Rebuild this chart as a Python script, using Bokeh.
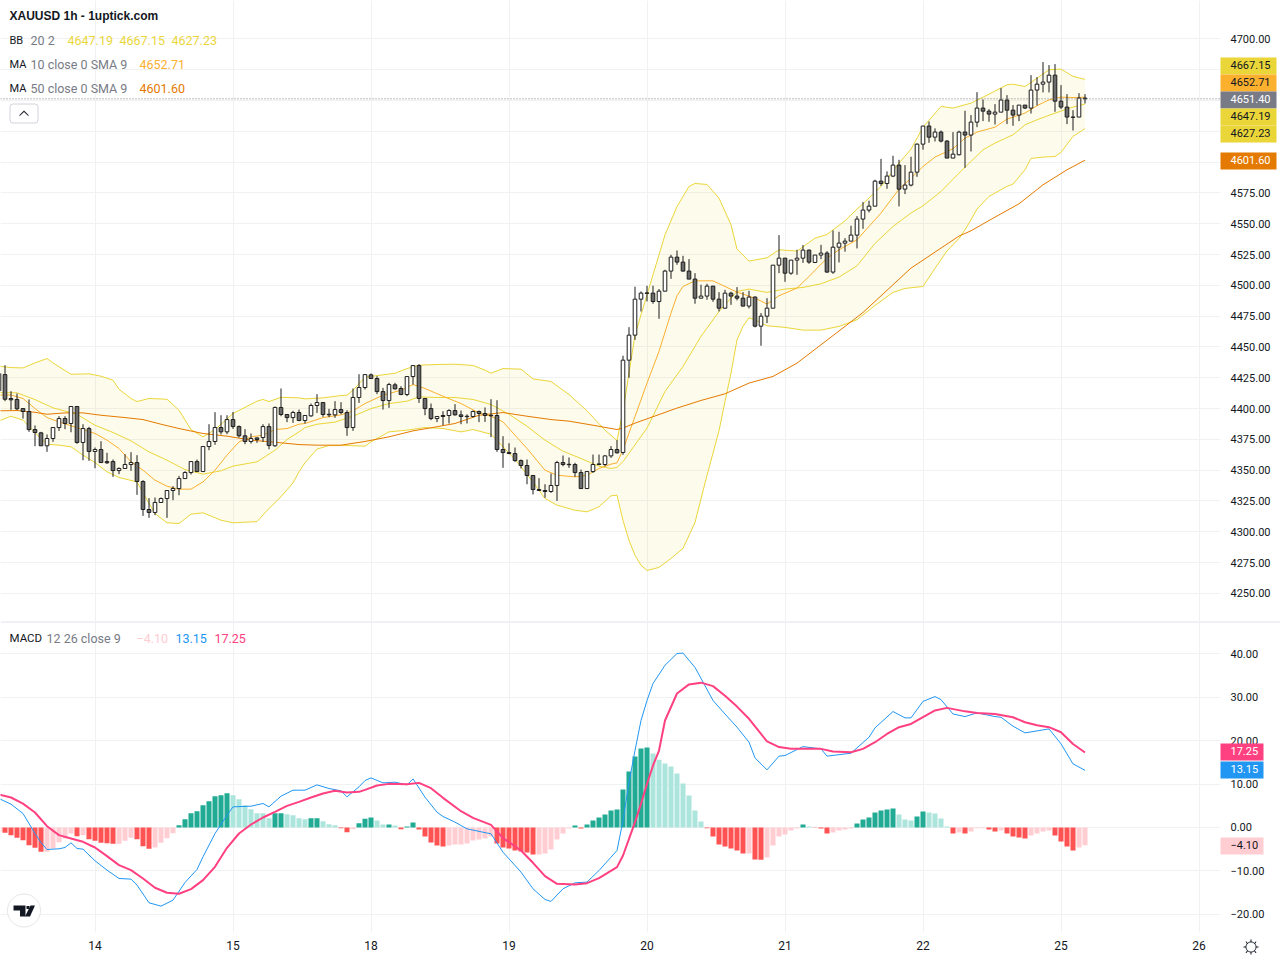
import math
from bokeh.plotting import figure
from bokeh.layouts import column
from bokeh.embed import file_html
from bokeh.resources import INLINE
from bokeh.models import (Range1d, FixedTicker, Label, Span, BoxAnnotation, PolyAnnotation,
                          ColumnDataSource, NumeralTickFormatter)

title_text = "XAUUSD 1h - 1uptick.com"
day_ticks = [15, 38, 61, 84, 107, 130, 153, 176, 199]
day_labels = ["14", "15", "18", "19", "20", "21", "22", "25", "26"]
price_ticks = [4250, 4275, 4300, 4325, 4350, 4375, 4400, 4425, 4450, 4475, 4500, 4525, 4550, 4575, 4700]
price_grid = [4250 + 25 * k for k in range(19)]
macd_ticks = [-20, -10, 0, 10, 20, 30, 40]
bar_first = -1

bar_open = [4414.4,
 4427.6,4408.2,4407.4,4400.0,4397.6,4383.0,4380.3,4369.8,4375.7,4384.6,
 4391.9,4387.9,4401.7,4372.5,4383.8,4365.2,4366.8,4357.0,4357.0,4349.7,
 4351.4,4354.6,4356.2,4340.8,4318.1,4315.7,4323.8,4327.0,4333.5,4335.1,
 4343.2,4348.1,4357.0,4348.9,4369.2,4373.3,4384.6,4381.1,4391.1,4385.4,
 4377.9,4373.3,4376.2,4376.5,4385.4,4369.8,4400.9,4395.2,4392.7,4396.8,
 4390.3,4394.1,4402.5,4404.9,4395.4,4394.9,4399.2,4396.8,4384.6,4409.0,
 4417.1,4427.4,4424.4,4413.8,4406.5,4419.3,4416.3,4411.4,4426.0,4434.9,
 4408.2,4400.0,4391.9,4394.4,4394.4,4398.4,4394.9,4393.4,4393.6,4397.6,
 4396.0,4394.6,4394.4,4366.8,4364.3,4363.5,4357.8,4353.8,4345.7,4334.3,
 4333.5,4332.7,4337.6,4356.2,4354.8,4354.6,4348.1,4335.1,4348.9,4355.1,
 4354.6,4361.6,4366.8,4364.4,4439.3,4459.6,4488.8,4493.9,4493.7,4486.9,
 4495.3,4511.6,4522.9,4518.9,4511.6,4505.1,4489.6,4491.3,4499.4,4488.8,
 4481.5,4493.7,4491.3,4489.6,4483.2,4490.5,4466.9,4475.0,4481.5,4516.4,
 4522.1,4509.9,4520.5,4522.1,4528.6,4518.6,4524.6,4526.2,4510.8,4531.0,
 4534.3,4535.9,4540.8,4553.8,4561.1,4564.3,4584.6,4582.7,4588.7,4597.6,
 4578.1,4581.4,4591.9,4614.6,4629.3,4620.3,4624.4,4617.1,4603.3,4606.0,
 4624.4,4622.0,4632.5,4643.9,4641.4,4639.0,4640.6,4650.4,4642.2,4638.2,
 4646.3,4643.9,4658.5,4663.3,4665.0,4670.6,4649.5,4644.7,4636.6,4636.6,4652.0]

bar_high = [4430.0,
 4435.2,4414.1,4412.2,4400.0,4407.4,4386.3,4381.1,4379.0,4384.6,4393.8,
 4393.8,4401.7,4401.7,4387.3,4385.2,4368.4,4373.5,4364.1,4358.7,4352.2,
 4363.0,4364.6,4362.2,4341.9,4327.3,4327.8,4327.8,4333.5,4337.0,4345.4,
 4349.2,4357.0,4358.7,4369.2,4387.3,4397.1,4394.6,4394.6,4397.3,4386.3,
 4383.3,4379.8,4376.5,4387.3,4387.9,4401.7,4416.3,4395.4,4398.2,4399.2,
 4394.4,4404.1,4411.7,4404.9,4399.8,4406.0,4405.2,4398.7,4416.3,4427.9,
 4427.6,4428.5,4426.3,4416.8,4420.9,4420.9,4418.2,4426.0,4434.9,4436.0,
 4408.2,4404.1,4393.8,4397.9,4399.5,4403.6,4398.4,4395.4,4398.4,4398.4,
 4400.9,4407.6,4406.8,4377.6,4371.9,4368.4,4358.7,4358.7,4345.9,4343.5,
 4338.6,4347.3,4357.6,4361.9,4360.3,4356.0,4350.5,4348.9,4362.7,4362.7,
 4362.2,4369.5,4374.4,4442.9,4466.1,4498.9,4495.1,4499.7,4499.7,4497.0,
 4512.7,4524.8,4528.3,4524.0,4521.3,4509.9,4500.5,4501.3,4499.4,4494.5,
 4496.4,4494.8,4498.6,4494.5,4495.6,4491.0,4477.5,4489.6,4516.4,4540.8,
 4522.1,4520.5,4528.9,4532.7,4529.1,4524.6,4532.9,4527.8,4544.6,4543.5,
 4538.3,4548.4,4556.2,4567.6,4568.7,4585.7,4602.7,4592.5,4605.2,4601.9,
 4597.6,4604.4,4615.2,4629.3,4633.0,4627.4,4625.7,4617.9,4624.4,4625.5,
 4641.7,4638.2,4656.8,4650.9,4643.0,4647.1,4660.1,4654.4,4646.3,4646.3,
 4646.3,4670.6,4669.0,4681.2,4678.8,4679.6,4662.5,4655.2,4642.2,4656.0,4655.2]

bar_low = [4412.0,
 4406.0,4399.0,4398.7,4391.9,4381.1,4369.5,4369.8,4364.9,4373.0,4381.9,
 4383.3,4380.8,4371.4,4358.1,4357.6,4351.6,4356.2,4355.1,4344.6,4346.8,
 4351.4,4349.5,4330.0,4312.9,4311.3,4313.5,4323.8,4311.3,4325.7,4329.7,
 4343.2,4346.5,4348.9,4348.9,4366.2,4370.6,4379.0,4379.2,4383.5,4376.5,
 4371.1,4371.6,4372.2,4373.0,4367.0,4369.0,4393.8,4389.0,4388.4,4389.8,
 4387.9,4393.3,4396.5,4393.3,4393.0,4392.5,4395.4,4377.9,4381.9,4404.6,
 4415.5,4424.1,4411.7,4399.2,4400.6,4415.5,4410.9,4410.1,4419.5,4404.6,
 4394.6,4390.6,4389.0,4386.5,4387.9,4394.4,4387.3,4387.9,4392.7,4389.0,
 4389.2,4376.8,4364.9,4351.9,4363.0,4356.8,4351.4,4338.6,4330.3,4333.2,
 4327.6,4331.6,4325.1,4353.2,4351.9,4344.6,4335.1,4335.1,4347.8,4354.1,
 4353.2,4360.0,4363.5,4362.5,4425.0,4455.8,4478.8,4487.0,4485.1,4472.9,
 4495.1,4505.3,4516.7,4511.3,4505.1,4485.1,4489.6,4488.3,4486.7,4478.8,
 4481.0,4484.2,4487.8,4482.9,4481.3,4465.9,4451.0,4469.4,4481.3,4509.9,
 4502.9,4508.6,4508.6,4518.3,4517.5,4518.1,4521.3,4510.2,4509.4,4518.6,
 4527.3,4535.9,4530.0,4545.9,4559.2,4564.1,4580.8,4578.4,4587.9,4564.1,
 4574.1,4580.3,4588.1,4610.1,4615.7,4616.8,4616.0,4603.3,4603.3,4605.5,
 4595.4,4608.7,4628.4,4633.3,4632.8,4630.6,4640.6,4630.9,4629.5,4633.3,
 4643.1,4639.5,4646.0,4656.6,4656.6,4640.9,4643.1,4630.9,4625.7,4636.6,4647.6]

bar_close = [4428.5,
 4407.6,4407.1,4399.8,4397.6,4383.0,4380.6,4369.8,4375.7,4384.6,4391.9,
 4387.9,4401.7,4372.5,4383.8,4365.2,4366.8,4356.2,4356.0,4349.7,4351.4,
 4354.6,4356.2,4340.8,4318.1,4315.7,4323.8,4327.0,4333.5,4335.1,4343.2,
 4348.1,4357.0,4348.9,4369.2,4373.3,4384.6,4381.1,4391.1,4385.4,4377.9,
 4373.3,4375.7,4374.9,4385.4,4370.0,4400.9,4395.2,4392.7,4396.8,4390.3,
 4394.4,4402.5,4404.9,4395.2,4394.9,4399.2,4396.8,4384.6,4409.0,4417.1,
 4427.6,4424.4,4413.8,4406.5,4419.5,4416.0,4411.4,4426.0,4434.9,4408.2,
 4400.0,4391.9,4393.6,4393.6,4398.4,4394.9,4393.6,4393.8,4397.6,4396.0,
 4394.4,4394.2,4366.8,4364.3,4363.5,4357.8,4353.8,4345.7,4334.3,4333.5,
 4332.7,4337.6,4356.2,4354.6,4354.4,4348.1,4335.1,4348.9,4354.6,4354.6,
 4361.6,4366.8,4364.1,4439.3,4459.6,4488.8,4493.7,4493.5,4486.9,4495.3,
 4511.6,4522.9,4518.9,4511.6,4505.1,4489.6,4491.3,4499.4,4488.8,4481.5,
 4493.7,4491.3,4489.6,4483.2,4490.5,4466.9,4475.0,4481.5,4516.4,4522.1,
 4509.9,4520.5,4522.1,4528.6,4518.9,4524.6,4526.2,4510.8,4531.0,4534.3,
 4535.9,4540.8,4553.8,4561.1,4564.3,4584.6,4582.7,4588.7,4597.6,4578.1,
 4581.4,4591.9,4614.6,4629.3,4620.3,4624.4,4617.1,4603.3,4606.5,4624.4,
 4622.0,4632.5,4643.9,4641.4,4639.0,4640.6,4650.4,4642.2,4638.2,4646.3,
 4643.9,4658.5,4663.3,4665.0,4670.6,4649.5,4644.7,4636.6,4636.4,4652.0,4651.4]

upper_idx = [-1,1,3,5,7,8,11,14,16,18,19,21,22,24,27,29,31,33,35,38,42,43,44,46,49,
 50,53,56,57,58,60,63,65,67,69,72,75,78,80,81,83,86,88,91,94,97,100,102,
 103,104,105,107,108,110,112,114,115,117,119,121,122,124,127,129,132,135,137,140,142,
 143,146,149,151,153,156,158,161,164,167,168,170,172,174,176,178,180]
upper_val = [4434.4,4433.3,4433.0,4437.1,4440.6,4437.0,4427.9,4428.2,4426.3,4423.0,4415.7,4408.2,4405.7,4408.2,4407.6,4398.7,4383.0,4377.1,4383.0,4396.0,4406.0,4407.4,4405.7,4409.2,4408.7,
 4407.9,4408.7,4410.6,4410.9,4414.9,4425.5,4427.4,4428.7,4432.5,4435.2,4435.8,4436.0,4435.0,4431.2,4428.7,4432.5,4432.0,4424.1,4422.0,4411.4,4398.2,4382.5,4374.1,
 4397.7,4428.8,4459.9,4492.4,4508.6,4541.0,4564.0,4580.3,4582.7,4581.9,4570.8,4549.2,4529.4,4519.7,4522.4,4528.9,4527.8,4538.3,4541.3,4552.4,4561.9,
 4566.2,4580.3,4599.2,4610.6,4628.4,4645.2,4643.9,4647.9,4655.2,4662.8,4663.3,4661.4,4668.2,4675.0,4675.5,4669.6,4667.15]

lower_idx = [-1,1,3,5,7,9,11,13,15,17,19,22,24,25,27,29,31,33,36,38,42,44,46,48,49,
 50,52,54,57,60,61,64,67,70,73,76,78,81,83,85,88,90,92,95,97,99,101,102,
 103,104,105,106,107,109,111,113,115,117,119,120,121,122,123,124,125,127,130,133,136,139,142,
 145,148,150,153,155,157,159,160,161,162,164,167,168,170,171,173,175,176,178,180]
lower_val = [4390.0,4393.8,4390.6,4380.3,4371.1,4370.3,4369.0,4362.2,4356.2,4348.7,4344.1,4340.5,4323.0,4314.8,4307.3,4306.7,4314.3,4315.4,4309.4,4307.3,4308.3,4318.9,4328.4,4339.7,4348.7,
 4356.0,4367.1,4370.0,4370.0,4369.5,4373.0,4381.1,4382.5,4384.6,4383.8,4381.1,4383.0,4379.2,4369.0,4358.7,4340.5,4327.0,4321.6,4317.5,4316.2,4320.3,4329.2,4329.7,
 4309.2,4293.0,4280.9,4272.8,4268.6,4271.1,4278.4,4286.5,4307.6,4345.8,4382.0,4405.8,4428.8,4455.8,4466.7,4473.7,4472.0,4467.2,4465.9,4463.7,4463.7,4466.7,4472.1,
 4483.7,4494.3,4497.5,4499.1,4513.8,4528.0,4538.0,4545.1,4553.2,4561.9,4572.2,4580.3,4582.2,4593.8,4603.0,4604.1,4604.6,4607.9,4620.9,4627.23]

mid_idx = [-1,2,5,8,12,15,18,21,24,27,30,33,36,38,42,45,47,49,
 50,52,55,58,61,64,67,69,72,75,78,81,84,87,90,93,96,99,101,102,
 103,105,107,110,113,116,119,120,122,124,127,130,133,136,139,142,
 145,148,151,153,156,159,161,163,165,168,170,172,175,178,180]
mid_val = [4413.0,4412.8,4407.3,4400.6,4395.4,4386.5,4380.6,4373.8,4364.9,4358.1,4350.5,4346.8,4349.5,4353.3,4356.8,4366.2,4374.9,4381.1,
 4384.6,4387.3,4389.0,4393.8,4400.0,4404.1,4406.0,4409.5,4409.0,4409.0,4407.4,4403.3,4395.4,4385.7,4374.4,4365.4,4359.5,4353.2,4351.4,4352.2,
 4357.0,4370.6,4384.2,4413.9,4434.2,4458.6,4478.8,4484.2,4495.1,4497.0,4494.3,4497.0,4498.3,4501.3,4506.7,4515.9,
 4534.0,4547.8,4558.7,4564.6,4576.2,4591.1,4600.6,4610.0,4615.5,4622.2,4630.3,4634.4,4639.8,4644.7,4647.19]

ma10_idx = [-1,1,3,5,7,9,13,15,17,19,21,23,25,27,29,31,33,35,37,39,41,43,45,47,49,
 50,53,56,58,60,63,66,68,70,73,76,79,81,83,85,87,90,92,95,97,99,101,102,
 103,105,107,109,111,112,113,115,118,120,122,125,127,129,132,134,137,139,142,
 146,149,151,153,155,158,160,162,165,167,170,172,174,176,178,180]
ma10_val = [4410.9,4411.0,4408.2,4400.0,4392.7,4389.2,4383.0,4379.8,4374.4,4367.6,4356.8,4350.0,4341.9,4337.0,4334.6,4334.6,4340.5,4350.0,4362.2,4373.0,4377.0,4378.4,4383.0,4383.8,4387.3,
 4387.9,4392.7,4394.9,4398.2,4404.1,4410.9,4414.9,4419.5,4416.3,4410.0,4404.1,4396.5,4393.8,4389.2,4378.4,4367.6,4350.0,4345.9,4344.6,4345.9,4351.4,4354.9,4356.0,
 4366.6,4393.6,4420.7,4446.4,4477.5,4491.6,4499.1,4503.7,4503.7,4499.1,4494.5,4489.7,4484.8,4491.6,4497.8,4507.2,4522.1,4528.9,4537.0,
 4558.7,4578.1,4587.0,4596.5,4604.1,4610.9,4619.5,4624.4,4628.4,4634.9,4639.8,4645.8,4650.6,4652.8,4652.4,4652.71]

ma50_idx = [-1,2,5,7,10,13,16,20,23,26,29,33,37,41,45,49,52,56,60,64,68,71,75,79,83,87,91,94,98,102,
 103,105,108,112,116,120,124,128,132,136,140,143,147,151,155,159,161,165,169,173,177,180]
ma50_val = [4398.2,4398.4,4397.0,4395.4,4396.5,4396.5,4394.6,4392.7,4391.1,4387.3,4383.8,4379.8,4377.6,4374.4,4372.7,4370.8,4370.3,4370.3,4373.3,4377.1,4381.9,4384.4,4387.9,4394.6,4396.8,4393.8,4391.1,4389.8,4386.5,4383.0,
 4384.2,4388.2,4393.4,4400.4,4406.6,4412.0,4420.7,4426.1,4436.9,4451.8,4466.7,4478.0,4496.0,4514.0,4527.0,4540.0,4544.3,4555.4,4566.2,4581.6,4593.8,4601.6]

hist_val = [-1.07,
 -1.23,-1.76,-2.37,-2.91,-4.06,-4.67,-5.59,-5.59,-4.83,-3.37,
 -2.53,-1.38,-1.99,-1.76,-2.68,-3.06,-3.52,-3.6,-3.75,-3.75,
 -3.06,-2.37,-2.68,-4.29,-4.9,-4.6,-3.52,-2.45,-1.3,0.54,
 1.91,3.29,3.75,5.13,6.05,7.2,7.43,7.89,7.43,6.51,
 5.13,4.21,3.29,3.25,2.14,3.29,3.29,3.06,2.83,2.14,
 1.91,2.14,2.14,1.45,0.77,0.54,-0.15,-1.07,-0.38,1.0,
 2.0,2.3,1.6,0.7,0.7,0.46,-0.38,0.23,1.15,-0.46,
 -2.07,-3.45,-4.14,-4.37,-4.14,-3.91,-3.91,-3.68,-2.99,-2.76,
 -2.53,-2.07,-3.68,-4.6,-4.83,-5.29,-5.52,-5.75,-6.2,-6.2,
 -5.98,-5.06,-2.76,-1.38,-0.23,0.46,-0.23,0.69,1.6,2.3,
 3.0,3.9,4.14,8.73,12.87,16.3,18.15,18.4,17.0,15.6,
 14.7,14.0,12.4,10.1,7.35,3.9,1.38,-0.15,-2.07,-3.9,
 -4.37,-4.83,-5.29,-5.98,-5.98,-7.35,-7.4,-6.89,-4.14,-2.07,
 -1.6,-0.69,-0.23,0.69,0.23,-0.08,-0.23,-1.38,-1.15,-0.69,
 -0.46,-0.23,0.92,1.84,2.3,3.45,3.9,4.14,4.37,3.0,
 1.84,1.6,2.53,3.68,3.45,3.2,2.07,0.23,-1.38,-1.15,
 -1.38,-0.92,-0.15,-0.15,-0.46,-0.92,-0.69,-1.38,-2.07,-2.3,
 -2.53,-1.84,-1.38,-0.92,-0.69,-1.84,-3.2,-4.37,-5.29,-4.6,-4.1]

macd_idx = [-1,1,3,5,6,7,9,10,11,12,13,15,17,19,21,22,24,26,28,30,32,33,35,37,38,41,43,44,46,48,50,52,54,56,57,59,
 60,61,63,65,67,68,70,72,73,75,77,81,83,86,88,90,91,93,95,97,99,101,102,103,104,105,
 106,107,108,110,112,113,115,116,118,120,122,124,125,127,129,130,133,136,137,141,144,145,148,150,151,153,155,156,158,160,162,165,166,168,170,174,176,178,180]
macd_val = [6.66,5.36,3.22,-1.38,-3.45,-5.06,-4.9,-4.6,-3.52,-4.83,-4.98,-7.66,-9.8,-11.72,-11.87,-13.25,-17.31,-18.08,-16.7,-12.64,-9.65,-6.74,-1.38,2.83,4.75,4.9,5.52,4.75,7.2,8.58,8.58,9.8,8.96,8.43,7.05,9.35,
 10.8,11.41,10.26,10.42,9.8,11.18,6.97,3.52,2.53,1.23,-0.31,-1.46,-5.67,-10.26,-14.09,-16.55,-17.0,-14.09,-12.72,-12.56,-9.88,-6.82,-5.29,1.6,10.4,17.7,
 24.6,29.2,33.1,37.3,40.0,40.1,36.8,34.3,29.2,26.1,23.06,19.6,16.0,13.25,16.4,16.55,18.6,18.08,16.4,17.08,20.76,22.9,26.66,25.2,25.2,29.0,30.1,29.4,26.1,25.5,26.35,25.5,25.35,23.29,21.75,22.67,19.23,14.63,13.15]

signal_idx = [-1,1,3,5,7,9,11,13,15,17,19,21,23,25,27,29,31,33,35,37,39,41,43,45,47,49,51,53,55,57,59,
 60,62,64,67,69,71,73,76,78,81,83,86,88,90,92,95,97,99,102,103,104,105,106,107,108,109,
 110,112,114,116,118,120,122,124,126,127,129,131,134,136,138,141,143,145,147,149,151,153,155,157,160,162,165,168,170,172,174,176,178,180]
signal_val = [7.58,6.9,5.5,3.45,0.3,-1.76,-2.53,-3.29,-4.6,-6.59,-8.66,-9.8,-11.72,-13.86,-15.0,-15.24,-14.17,-12.1,-9.04,-4.67,-1.38,0.69,2.3,3.6,4.98,5.9,6.89,7.8,8.43,8.05,8.2,
 8.66,9.65,10.03,9.96,10.26,9.04,6.82,3.75,2.22,0.61,-2.45,-5.29,-8.12,-11.18,-12.95,-13.1,-12.8,-11.64,-9.12,-6.43,-2.6,1.23,5.44,10.03,14.25,17.7,
 24.6,30.8,32.9,33.3,32.5,30.3,27.8,25.0,21.5,19.8,18.5,18.08,18.08,18.08,17.46,17.3,18.08,19.6,21.5,23.06,23.8,25.35,26.9,27.5,26.7,26.35,26.1,25.35,24.2,23.5,23.06,21.9,19.2,17.25]

BB_C = "#ebd63a"; MA10_C = "#fbb02e"; MA50_C = "#e57a00"; GRAY = "#787b86"; INK = "#131722"
BLUE = "#2196f3"; PINK = "#ff4081"; LPINK = "#ffcdd2"; GRID = "#f0f1f3"

bar_index = [bar_first + k for k in range(len(bar_close))]
xr = Range1d(-0.75, 202.583)


def common(fig):
    fig.outline_line_color = None
    fig.background_fill_color = "white"
    fig.border_fill_color = "white"
    fig.xgrid.ticker = FixedTicker(ticks=day_ticks)
    fig.xgrid.grid_line_color = GRID
    fig.ygrid.grid_line_color = GRID
    yax = fig.yaxis[0]
    yax.axis_line_color = None
    yax.major_tick_line_color = None
    yax.minor_tick_line_color = None
    yax.major_tick_out = 0
    yax.major_tick_in = 0
    yax.minor_tick_out = 0
    yax.minor_tick_in = 0
    yax.major_label_text_font = "Roboto"
    yax.major_label_text_font_size = "11px"
    yax.major_label_text_color = INK
    yax.major_label_standoff = 10
    yax.formatter = NumeralTickFormatter(format="0.00")


price = figure(width=1280, height=621, x_range=xr, y_range=Range1d(4227.2, 4731.2), output_backend="svg",
               toolbar_location=None, x_axis_location=None, y_axis_location="right",
               min_border_left=0, min_border_right=60, min_border_top=0, min_border_bottom=0)
common(price)
price.yaxis[0].ticker = FixedTicker(ticks=price_ticks)
price.ygrid.ticker = FixedTicker(ticks=price_grid)

price.patch(upper_idx + lower_idx[::-1], upper_val + lower_val[::-1], fill_color=BB_C, fill_alpha=0.1, line_color=None)
price.line(upper_idx, upper_val, line_color=BB_C, line_width=1)
price.line(lower_idx, lower_val, line_color=BB_C, line_width=1)
price.line(mid_idx, mid_val, line_color=BB_C, line_width=1)
price.line(ma10_idx, ma10_val, line_color=MA10_C, line_width=1)
price.line(ma50_idx, ma50_val, line_color=MA50_C, line_width=1)
price.add_layout(Span(location=bar_close[-1], dimension="width", line_color="#777777", line_width=1, line_dash="1 2"))

src = ColumnDataSource(dict(
    x=bar_index, o=bar_open, h=bar_high, l=bar_low, c=bar_close,
    fill=["#ffffff" if c >= o else "#6b6b6b" for o, c in zip(bar_open, bar_close)]))
price.segment("x", "h", "x", "l", source=src, line_color="#1c1c1c", line_width=1)
price.vbar(x="x", top="o", bottom="c", width=0.6, source=src, fill_color="fill", line_color="#1c1c1c", line_width=1)

macd = figure(width=1280, height=339, x_range=xr, y_range=Range1d(-24.14, 47.13), output_backend="svg",
              toolbar_location=None, y_axis_location="right",
              min_border_left=0, min_border_right=60, min_border_top=1, min_border_bottom=28)
common(macd)
macd.yaxis[0].ticker = FixedTicker(ticks=macd_ticks)
macd.yaxis[0].major_label_overrides = {-20: "\u221220.00", -10: "\u221210.00"}
macd.ygrid.ticker = FixedTicker(ticks=macd_ticks)
xax = macd.xaxis[0]
xax.ticker = FixedTicker(ticks=day_ticks)
xax.major_label_overrides = dict(zip(day_ticks, day_labels))
xax.axis_line_color = None
xax.major_tick_line_color = None
xax.minor_tick_line_color = None
xax.major_label_text_font = "Roboto"
xax.major_label_text_font_size = "12px"
xax.major_label_text_color = INK
xax.major_label_standoff = 2

hist_colors = []
prev = None
for v in hist_val:
    rising = prev is None or v >= prev
    if v >= 0:
        hist_colors.append("#22ab94" if rising else "#ace5dc")
    else:
        hist_colors.append(LPINK if rising else "#ff5252")
    prev = v
macd.vbar(x=bar_index, top=hist_val, bottom=0, width=0.84, fill_color=hist_colors, line_color=None)
macd.line(macd_idx, macd_val, line_color=BLUE, line_width=1)
macd.line(signal_idx, signal_val, line_color=PINK, line_width=2)

# transparent sheet over both panes: legends, price tags, logo, settings icon
sheet = figure(width=1280, height=960, x_range=Range1d(0, 1280), y_range=Range1d(960, 0), output_backend="svg",
               toolbar_location=None, x_axis_location=None, y_axis_location=None,
               min_border=0, outline_line_color=None, background_fill_color=None, border_fill_color=None)
sheet.grid.visible = False


def box(left, right, top, bottom, **kw):
    sheet.add_layout(BoxAnnotation(left=left, right=right, top=top, bottom=bottom, left_units="canvas",
                                   right_units="canvas", top_units="canvas", bottom_units="canvas", **kw))


def poly(xs, ys, color=INK):
    sheet.add_layout(PolyAnnotation(xs=xs, ys=ys, xs_units="canvas", ys_units="canvas", fill_color=color,
                                    fill_alpha=1.0, line_color=None))


def ring(cx, cy, r, line, fill=None):
    steps = range(48)
    sheet.add_layout(PolyAnnotation(xs=[cx + r * math.cos(2 * math.pi * k / 48) for k in steps],
                                    ys=[cy + r * math.sin(2 * math.pi * k / 48) for k in steps],
                                    xs_units="canvas", ys_units="canvas", fill_color=fill or "white",
                                    fill_alpha=1.0 if fill else 0.0, line_color=line, line_alpha=1.0, line_width=1))


def text(x, y, s, color=INK, size="12.5px", font="Roboto", style="normal"):
    sheet.add_layout(Label(x=x, y=y, x_units="canvas", y_units="canvas", text=s, text_color=color,
                           text_font=font, text_font_size=size, text_font_style=style,
                           text_baseline="middle", text_align="left"))


def tag(top, bottom, right, s, fill, color):
    box(1220, right, top, bottom, fill_color=fill, fill_alpha=1.0, line_color=None)
    text(1230, (top + bottom) / 2 - 0.7, s, color=color, size="11px")


box(0, 1280, 621, 622, fill_color="#e0e3eb", fill_alpha=1.0, line_color=None)

text(9, 15.5, title_text, size="12px", font="Liberation Sans", style="bold")
text(9, 39.5, "BB", size="11px")
text(30, 39.5, "20 2", color=GRAY)
text(67, 39.5, "4647.19", color=BB_C)
text(119, 39.5, "4667.15", color=BB_C)
text(171, 39.5, "4627.23", color=BB_C)
text(9, 63.5, "MA", size="11px")
text(30, 63.5, "10 close 0 SMA 9", color=GRAY)
text(139, 63.5, "4652.71", color=MA10_C)
text(9, 87.5, "MA", size="11px")
text(30, 87.5, "50 close 0 SMA 9", color=GRAY)
text(139, 87.5, "4601.60", color=MA50_C)
box(9.5, 37.5, 103.5, 122.5, fill_color="white", fill_alpha=1.0, line_color="#d1d4dc", line_alpha=1.0, line_width=1, border_radius=3)
poly([19, 23.5, 28, 28, 23.5, 19], [114.5, 110, 114.5, 115.8, 111.4, 115.8])

tag(57, 74, 1276, "4667.15", BB_C, INK)
tag(74, 91, 1276, "4652.71", MA10_C, INK)
tag(91, 108, 1276, "4651.40", GRAY, "#ffffff")
tag(108, 125, 1276, "4647.19", BB_C, INK)
tag(125, 142, 1276, "4627.23", BB_C, INK)
tag(152, 169, 1276, "4601.60", MA50_C, "#ffffff")

text(9, 637.5, "MACD", size="11.5px")
text(46, 637.5, "12 26 close 9", color=GRAY)
text(136, 637.5, "\u22124.10", color=LPINK)
text(175, 637.5, "13.15", color=BLUE)
text(214, 637.5, "17.25", color=PINK)
tag(743, 760, 1263, "17.25", PINK, "#ffffff")
tag(761, 778, 1263, "13.15", BLUE, "#ffffff")
tag(837, 854, 1263, "\u22124.10", LPINK, INK)

# logo
ring(23.5, 910, 16.5, "#e6e6e6", fill="white")
poly([13, 25, 25, 19.5, 19.5, 13], [905, 905, 916, 916, 910, 910])
poly([30, 34.5, 29.5, 24.5], [905, 905, 916, 916])
poly([26, 29, 29, 26], [905.5, 905.5, 908.5, 908.5])

# settings gear
ring(1250.5, 946.5, 5, INK)
poly([1250, 1251, 1251, 1250], [939, 939, 941.5, 941.5])
poly([1250, 1251, 1251, 1250], [951.5, 951.5, 954, 954])
poly([1243, 1245.5, 1245.5, 1243], [946, 946, 947, 947])
poly([1255.5, 1258, 1258, 1255.5], [946, 946, 947, 947])
poly([1245, 1246, 1247.5, 1246.5], [941, 941, 943, 943.5])
poly([1255, 1256, 1254.5, 1253.5], [941, 941, 943.5, 943])
poly([1246.5, 1247.5, 1246, 1245], [950, 950.5, 952.5, 952.5])
poly([1253.5, 1254.5, 1256, 1255], [950.5, 950, 952.5, 952.5])

panes = column(price, macd, spacing=0, styles={"position": "absolute", "left": "0px", "top": "0px"})
sheet.styles = {"position": "absolute", "left": "0px", "top": "0px"}
open("out.html", "w").write(file_html([panes, sheet], INLINE))
